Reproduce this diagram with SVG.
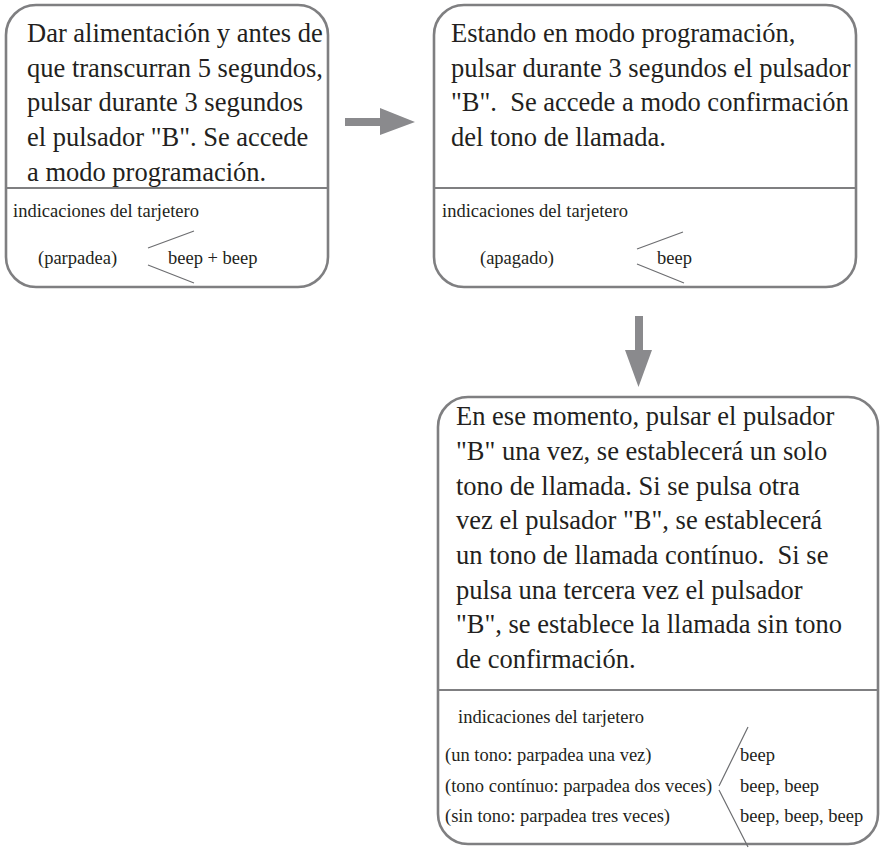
<svg xmlns="http://www.w3.org/2000/svg" width="882" height="849" viewBox="0 0 882 849">
<style>
.box{fill:#fff;stroke:#7f7f81;stroke-width:2.6}
.div{stroke:#7f7f81;stroke-width:2}
.sl{stroke:#6d6e71;stroke-width:1.2;fill:none}
.big{font-family:"Liberation Serif","Times New Roman",serif;font-size:26.5px;fill:#231f20}
.sm{font-family:"Liberation Serif","Times New Roman",serif;font-size:18.5px;fill:#231f20}
.arr{fill:#8a8a8d}
</style>
<rect width="882" height="849" fill="#fff"/>
<g id="node1">
<rect class="box" x="6" y="5" width="322" height="282" rx="30" ry="30"/>
<line class="div" x1="6" y1="188" x2="328" y2="188"/>
<text class="big" x="27" y="42">Dar alimentación y antes de</text>
<text class="big" x="27" y="77">que transcurran 5 segundos,</text>
<text class="big" x="27" y="111">pulsar durante 3 segundos</text>
<text class="big" x="27" y="146">el pulsador "B". Se accede</text>
<text class="big" x="27" y="181">a modo programación.</text>
<text class="sm" x="13" y="217">indicaciones del tarjetero</text>
<text class="sm" x="38" y="264">(parpadea)</text>
<text class="sm" x="168" y="264">beep + beep</text>
<path class="sl" d="M148,248 L194,231 M148,265 L194,283"/>
</g>
<g id="node2">
<rect class="box" x="434" y="5" width="422" height="282" rx="30" ry="30"/>
<line class="div" x1="434" y1="188" x2="856" y2="188"/>
<text class="big" x="451" y="42">Estando en modo programación,</text>
<text class="big" x="451" y="77">pulsar durante 3 segundos el pulsador</text>
<text class="big" x="451" y="111" xml:space="preserve">"B".  Se accede a modo confirmación</text>
<text class="big" x="451" y="146">del tono de llamada.</text>
<text class="sm" x="442" y="217">indicaciones del tarjetero</text>
<text class="sm" x="480" y="264">(apagado)</text>
<text class="sm" x="657" y="264">beep</text>
<path class="sl" d="M637,249 L683,232 M637,264 L684,283"/>
</g>
<g id="node3">
<rect class="box" x="438" y="397" width="440" height="447" rx="30" ry="30"/>
<line class="div" x1="438" y1="690" x2="878" y2="690"/>
<text class="big" x="456" y="425">En ese momento, pulsar el pulsador</text>
<text class="big" x="456" y="460">"B" una vez, se establecerá un solo</text>
<text class="big" x="456" y="495">tono de llamada. Si se pulsa otra</text>
<text class="big" x="456" y="529">vez el pulsador "B", se establecerá</text>
<text class="big" x="456" y="564" xml:space="preserve">un tono de llamada contínuo.  Si se</text>
<text class="big" x="456" y="599">pulsa una tercera vez el pulsador</text>
<text class="big" x="456" y="633">"B", se establece la llamada sin tono</text>
<text class="big" x="456" y="668">de confirmación.</text>
<text class="sm" x="458" y="723">indicaciones del tarjetero</text>
<text class="sm" x="445" y="761">(un tono: parpadea una vez)</text>
<text class="sm" x="445" y="792">(tono contínuo: parpadea dos veces)</text>
<text class="sm" x="445" y="822">(sin tono: parpadea tres veces)</text>
<text class="sm" x="740" y="761">beep</text>
<text class="sm" x="740" y="792">beep, beep</text>
<text class="sm" x="740" y="822">beep, beep, beep</text>
<path class="sl" d="M748,727 L719,786 M719,790 L748,847"/>
</g>
<g id="connectors">
<path class="arr" d="M345,118 L380,118 L380,108 L415,122 L380,135 L380,126 L345,126 Z"/>
<path class="arr" d="M635,316 L643,316 L643,350 L652,350 L638.5,387 L625,350 L635,350 Z"/>
</g>
</svg>
